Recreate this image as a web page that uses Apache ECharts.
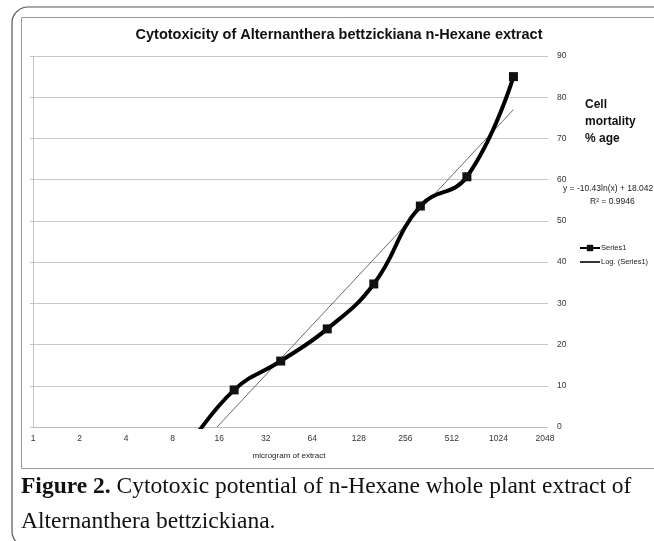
<!DOCTYPE html>
<html><head><meta charset="utf-8">
<script src="https://cdn.jsdelivr.net/npm/echarts@6/dist/echarts.min.js"></script>
<style>html,body{margin:0;padding:0;background:#fff}#c{width:654px;height:541px}</style>
</head><body><div id="c"></div>
<script>
// Data
const doses = [10, 20, 40, 80, 160, 320, 640, 1280];          // microgram of extract
const mortality = [-5, 9.0, 16.0, 23.8, 34.7, 53.6, 60.7, 85.0]; // cell mortality %
const trendX = [15.5, 1280];
const trendY = [0, 77];
const xTicks = [1, 2, 4, 8, 16, 32, 64, 128, 256, 512, 1024, 2048];
const yTicks = [0, 10, 20, 30, 40, 50, 60, 70, 80, 90];

const chart = echarts.init(document.getElementById('c'), null, {renderer: 'canvas'});
const series1 = doses.map((d, i) => [d, mortality[i]]);
const trend = trendX.map((d, i) => [d, trendY[i]]);

chart.setOption({
  animation: false,
  title: {
    text: 'Cytotoxicity of Alternanthera bettzickiana n-Hexane extract',
    left: 334, top: 22, textAlign: 'center',
    textStyle: {fontFamily: 'Liberation Sans', fontWeight: 'bold', fontSize: 14.5, color: '#111'}
  },
  grid: {left: 33, right: 109, top: 56, bottom: 114, containLabel: false},
  xAxis: {
    type: 'log', logBase: 2, min: xTicks[0], max: xTicks[xTicks.length - 1],
    splitNumber: xTicks.length - 1, interval: 1,
    name: 'microgram of extract', nameLocation: 'middle', nameGap: 25,
    nameTextStyle: {fontFamily: 'Liberation Sans', fontSize: 8, color: '#222'},
    axisLine: {lineStyle: {color: '#bbb', width: 1}},
    axisTick: {show: false},
    splitLine: {show: false},
    axisLabel: {fontFamily: 'Liberation Sans', fontSize: 8.5, color: '#333', margin: 7,
      showMaxLabel: true, showMinLabel: true, interval: 0, hideOverlap: false,
      formatter: v => String(Math.round(v))}
  },
  yAxis: [{
    type: 'value', position: 'right', min: yTicks[0], max: yTicks[yTicks.length - 1], interval: 10,
    axisLine: {show: false},
    axisTick: {show: true, length: 3, lineStyle: {color: '#c4c4c4'}},
    splitLine: {lineStyle: {color: '#c8c8c8', width: 1}},
    axisLabel: {fontFamily: 'Liberation Sans', fontSize: 8.5, color: '#333', margin: 12}
  }, {
    type: 'value', position: 'left', min: yTicks[0], max: yTicks[yTicks.length - 1], interval: 10,
    axisLine: {show: true, lineStyle: {color: '#c4c4c4'}},
    axisTick: {show: true, length: 3, lineStyle: {color: '#c4c4c4'}},
    axisLabel: {show: false},
    splitLine: {show: false}
  }],
  legend: {
    orient: 'vertical', left: 574, top: 239, itemWidth: 20, itemHeight: 8, itemGap: 6,
    textStyle: {fontFamily: 'Liberation Sans', fontSize: 7.5, color: '#222', padding: [0, 0, 0, -4]},
    data: [{name: 'Series1'}, {name: 'Log. (Series1)', icon: 'path://M0,0L10,0L10,1L0,1Z', itemStyle: {color: '#333'}}]
  },
  series: [{
    name: 'Series1', type: 'line', data: series1, smooth: 0.45, clip: true,
    symbol: 'rect', symbolSize: 9,
    lineStyle: {color: '#000', width: 4},
    itemStyle: {color: '#111'}, z: 3
  }, {
    name: 'Log. (Series1)', type: 'line', data: trend, symbol: 'none', clip: true,
    lineStyle: {color: '#444', width: 0.8}, itemStyle: {color: '#444'}, z: 2
  }],
  graphic: [
    {type: 'rect', shape: {x: 12, y: 7, width: 660, height: 540, r: 16}, style: {fill: 'none', stroke: '#555', lineWidth: 1.2}, silent: true},
    {type: 'rect', shape: {x: 21.5, y: 17.5, width: 660, height: 451}, style: {fill: 'none', stroke: '#999', lineWidth: 1}, silent: true},
    {type: 'text', left: 585, top: 96, style: {text: 'Cell\nmortality\n% age', font: 'bold 12px Liberation Sans', lineHeight: 17, fill: '#111'}},
    {type: 'text', left: 563, top: 184, style: {text: 'y = -10.43ln(x) + 18.042', font: '8.5px Liberation Sans', fill: '#222'}},
    {type: 'text', left: 590, top: 197, style: {text: 'R² = 0.9946', font: '8.5px Liberation Sans', fill: '#222'}},
    {type: 'text', left: 21, top: 469, style: {
      text: '{b|Figure 2.} Cytotoxic potential of n-Hexane whole plant extract of\nAlternanthera bettzickiana.',
      font: '23.5px Liberation Serif', lineHeight: 35, fill: '#111',
      rich: {b: {font: 'bold 23.5px Liberation Serif', fill: '#111'}}
    }}
  ]
});
</script></body></html>
